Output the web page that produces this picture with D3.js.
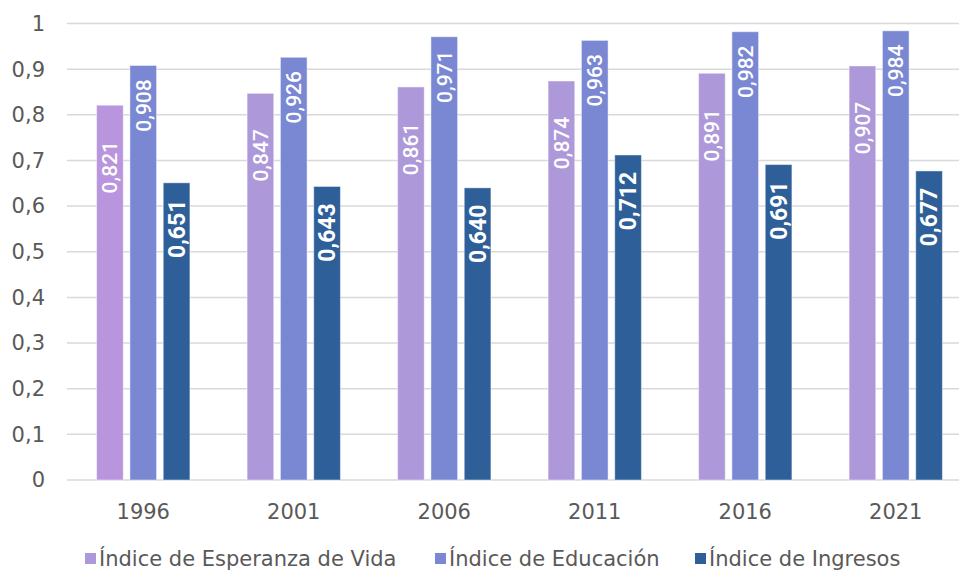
<!DOCTYPE html>
<html>
<head>
<meta charset="utf-8">
<script src="https://cdn.jsdelivr.net/npm/d3@7"></script>
<style>
  html, body { margin: 0; padding: 0; background: #fff; }
  svg { display: block; }
</style>
</head>
<body>
<svg id="chart" width="959" height="571"></svg>
<script>
// datos del gráfico
const years = ["1996", "2001", "2006", "2011", "2016", "2021"];
const seriesNames = ["Índice de Esperanza de Vida", "Índice de Educación", "Índice de Ingresos"];
const esperanza = [0.821, 0.847, 0.861, 0.874, 0.891, 0.907];
const educacion = [0.908, 0.926, 0.971, 0.963, 0.982, 0.984];
const ingresos  = [0.651, 0.643, 0.640, 0.712, 0.691, 0.677];
const yTicks = [0, 0.1, 0.2, 0.3, 0.4, 0.5, 0.6, 0.7, 0.8, 0.9, 1];

// estilos por serie
const COLORS = ["#ad99d9", "#7a88d4", "#2e5f99"];
const FIRST_BAR_COLOR = "#b895dc"; // la barra de 1996 es un poco más rosada
const LABEL_SIZE = [21, 21, 23];
const LABEL_OFFSET = [62, 40, 46]; // distancia del centro de la etiqueta al tope de la barra

const values = [esperanza, educacion, ingresos];
const rows = years.map((yr, i) => ({ year: yr, vals: values.map(s => s[i]) }));

const locale = d3.formatLocale({ decimal: ",", thousands: ".", grouping: [3], currency: ["", "€"] });
const fmtTick = locale.format(".1~f");
const fmtVal = locale.format(".3f");

const svg = d3.select("#chart");
const FONT = "'DejaVu Sans', sans-serif";

const x0 = d3.scaleBand().domain(years).range([68, 971]).paddingInner(0.38).paddingOuter(0.19);
const x1 = d3.scaleBand().domain(d3.range(3)).range([0, x0.bandwidth()]).paddingInner(0.2);
const y = d3.scaleLinear().domain([0, 1]).range([480, 23.5]);

// líneas de cuadrícula
svg.append("g")
  .selectAll("line")
  .data(yTicks)
  .join("line")
  .attr("x1", 67).attr("x2", 971)
  .attr("y1", d => y(d)).attr("y2", d => y(d))
  .attr("stroke", "#d9d9d9")
  .attr("stroke-width", 1.5);

// etiquetas del eje Y
svg.append("g")
  .selectAll("text")
  .data(yTicks)
  .join("text")
  .attr("x", 45)
  .attr("y", d => y(d))
  .attr("dy", "0.35em")
  .attr("text-anchor", "end")
  .attr("font-family", FONT)
  .attr("font-size", 21)
  .attr("fill", "#595959")
  .text(fmtTick);

// barras
const groups = svg.append("g")
  .selectAll("g")
  .data(rows)
  .join("g")
  .attr("transform", d => `translate(${x0(d.year)},0)`);

groups.selectAll("rect")
  .data((d, gi) => d.vals.map((v, si) => ({ v, si, gi })))
  .join("rect")
  .attr("x", d => x1(d.si))
  .attr("width", x1.bandwidth())
  .attr("y", d => y(d.v))
  .attr("height", d => y(0) - y(d.v))
  .attr("fill", d => (d.si === 0 && d.gi === 0) ? FIRST_BAR_COLOR : COLORS[d.si])
  .attr("stroke", "#ffffff")
  .attr("stroke-opacity", 0.45)
  .attr("stroke-width", 1);

// etiquetas de valor (rotadas, dentro de la barra)
groups.selectAll("text")
  .data(d => d.vals.map((v, si) => ({ v, si })))
  .join("text")
  .attr("transform", d => {
    const cx = x1(d.si) + x1.bandwidth() / 2;
    const cy = y(d.v) + LABEL_OFFSET[d.si];
    return `translate(${cx},${cy}) rotate(-90)`;
  })
  .attr("text-anchor", "middle")
  .attr("dy", "0.36em")
  .attr("font-family", "Roboto, sans-serif")
  .attr("font-weight", d => d.si === 2 ? 700 : 500)
  .attr("font-size", d => LABEL_SIZE[d.si])
  .attr("fill", "#ffffff")
  .text(d => fmtVal(d.v));

// etiquetas del eje X
svg.append("g")
  .selectAll("text")
  .data(years)
  .join("text")
  .attr("x", d => x0(d) + x0.bandwidth() / 2)
  .attr("y", 512)
  .attr("dy", "0.35em")
  .attr("text-anchor", "middle")
  .attr("font-family", FONT)
  .attr("font-size", 21)
  .attr("fill", "#595959")
  .text(d => d);

// leyenda
const legendX = [85, 435, 695];
const legend = svg.append("g")
  .selectAll("g")
  .data(seriesNames)
  .join("g")
  .attr("transform", (d, i) => `translate(${legendX[i]},553)`);

legend.append("rect")
  .attr("width", 11).attr("height", 11)
  .attr("fill", (d, i) => COLORS[i]);

legend.append("text")
  .attr("x", 14)
  .attr("y", 5.5)
  .attr("dy", "0.35em")
  .attr("font-family", FONT)
  .attr("font-size", 21)
  .attr("fill", "#595959")
  .text(d => d);
</script>
</body>
</html>
